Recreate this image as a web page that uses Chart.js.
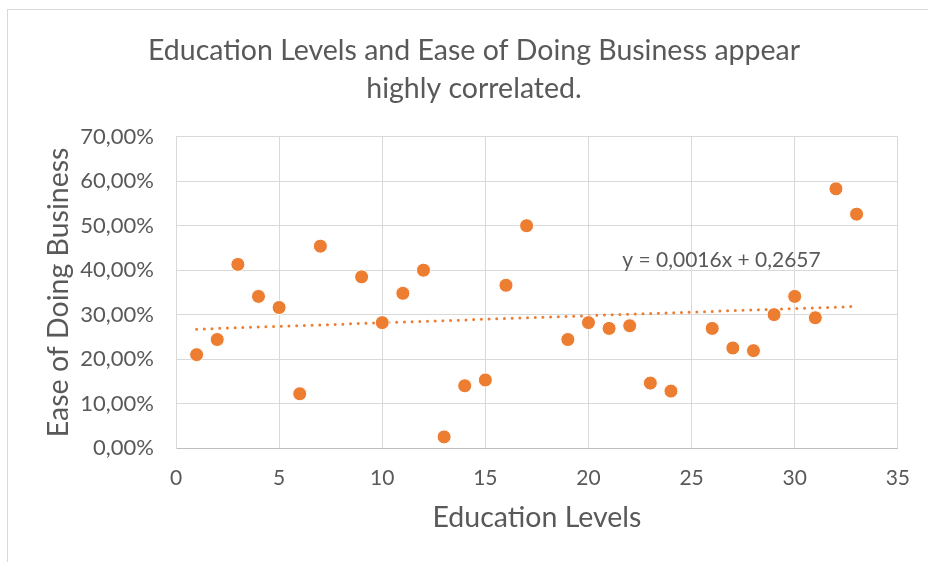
<!DOCTYPE html>
<html>
<head>
<meta charset="utf-8">
<script src="https://cdn.jsdelivr.net/npm/chart.js@4/dist/chart.umd.min.js"></script>
<style>
body{margin:0;background:#fff}
#wrap{position:relative;width:928px;height:562px}
#frame{position:absolute;left:7px;top:9px;right:0;bottom:0;border-left:1px solid #d9d9d9;border-top:1px solid #d9d9d9}
canvas{position:absolute;left:0;top:0}
</style>
</head>
<body>
<div id="wrap">
<div id="frame"></div>
<canvas id="chart" width="928" height="562"></canvas>
</div>
<script>
const educationLevels = [1,2,3,4,5,6,7,9,10,11,12,13,14,15,16,17,19,20,21,22,23,24,26,27,28,29,30,31,32,33]
const easeOfBusiness = [0.210,0.244,0.413,0.341,0.316,0.122,0.454,0.385,0.282,0.348,0.400,0.025,0.140,0.153,0.366,0.500,0.244,0.282,0.269,0.275,0.146,0.128,0.269,0.225,0.219,0.300,0.341,0.293,0.583,0.526]
const trendX = [1,33]
const trendY = [0.2673,0.3185]
const trendLabel = "y = 0,0016x + 0,2657"
const xTicks = [0,5,10,15,20,25,30,35]
const yTicks = [0,0.1,0.2,0.3,0.4,0.5,0.6,0.7]

const orange = "#ED7D31"
const textColor = "#595959"
const font = "Lato"

const trendText = {
id:"trendText",
afterDatasetsDraw(chart){
const ctx = chart.ctx
const x = chart.scales.x.getPixelForValue(26.45)
const y = chart.scales.y.getPixelForValue(0.422)
ctx.save()
ctx.font = "21px " + font
ctx.fillStyle = textColor
ctx.textAlign = "center"
ctx.textBaseline = "middle"
ctx.fillText(trendLabel, x, y)
ctx.restore()
}
}

new Chart(
document.getElementById("chart"),
{
type:"scatter",
data:{
datasets:[
{
label:"Ease of Doing Business",
data:educationLevels.map((x,i)=>({x:x,y:easeOfBusiness[i]})),
backgroundColor:orange,
borderColor:"#ffffff",
borderWidth:1,
pointRadius:7,
order:1
},
{
label:"Trend",
data:trendX.map((x,i)=>({x:x,y:trendY[i]})),
showLine:true,
borderColor:orange,
borderWidth:3,
borderDash:[0,7.7],
borderCapStyle:"round",
pointRadius:0,
order:2
}
]
},
options:{
responsive:false,
animation:false,
layout:{padding:{left:48,right:28,top:0,bottom:0}},
plugins:{
legend:{display:false},
tooltip:{enabled:false},
title:{
display:true,
text:["Education Levels and Ease of Doing Business appear","highly correlated."],
color:textColor,
font:{family:font,size:28.5,weight:"normal",lineHeight:1.33},
padding:{top:32,bottom:29}
}
},
scales:{
x:{
type:"linear",
min:0,max:35,
afterBuildTicks:s=>{s.ticks = xTicks.map(v=>({value:v}))},
afterFit:s=>{s.height = 114},
ticks:{color:textColor,font:{family:font,size:21},padding:18},
grid:{color:"#d9d9d9",drawTicks:false},
border:{color:"#bfbfbf"},
title:{display:true,text:"Education Levels",color:textColor,font:{family:font,size:28.5},padding:{top:0,bottom:27}}
},
y:{
type:"linear",
min:0,max:0.7,
afterBuildTicks:s=>{s.ticks = yTicks.map(v=>({value:v}))},
afterFit:s=>{s.width = 128},
ticks:{color:textColor,font:{family:font,size:22},padding:22,
callback:v=>(v*100).toFixed(2).replace(".",",")+"%"},
grid:{color:"#d9d9d9",drawTicks:false},
border:{color:"#d9d9d9"},
title:{display:true,text:"Ease of Doing Business",color:textColor,font:{family:font,size:28.5},padding:{top:-6,bottom:0}}
}
}
},
plugins:[trendText]
})
</script>
</body>
</html>
